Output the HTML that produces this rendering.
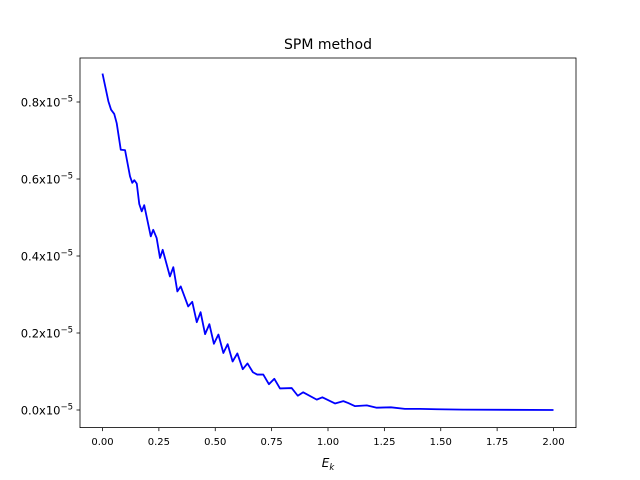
<!DOCTYPE html>
<html><head><meta charset="utf-8"><style>
body{margin:0;background:#fff;}
svg{display:block;font-family:"DejaVu Sans","Liberation Sans",sans-serif;}
</style></head><body>
<svg id="chart" width="640" height="480" viewBox="0 0 640 480">
<rect x="0" y="0" width="640" height="480" fill="#fff"/>
<text x="328" y="49" font-size="14" text-anchor="middle">SPM method</text>
<g id="xt"></g>
<g id="yt"></g>
<path id="line" fill="none" stroke="#0000ff" stroke-width="1.8" stroke-linejoin="round"/>
<rect x="80" y="58" width="496" height="369.6" fill="none" stroke="#000" stroke-width="0.8"/>
<text x="328" y="467" font-size="12" text-anchor="middle" font-style="italic">E<tspan font-size="8.5" dy="3" font-style="italic">k</tspan></text>
</svg>
<script>
const xValues=[0,0.026,0.038,0.052,0.063,0.081,0.10,0.122,0.132,0.141,0.152,0.163,0.174,0.185,0.214,0.225,0.24,0.255,0.267,0.299,0.314,0.332,0.347,0.38,0.398,0.418,0.435,0.455,0.474,0.494,0.514,0.536,0.555,0.577,0.598,0.622,0.643,0.667,0.686,0.713,0.738,0.762,0.787,0.839,0.866,0.89,0.95,0.975,1.031,1.068,1.09,1.12,1.172,1.216,1.279,1.341,1.408,1.482,1.599,2.0];
const yValues=[0.874,0.802,0.78,0.769,0.745,0.676,0.675,0.607,0.59,0.597,0.588,0.535,0.516,0.532,0.451,0.468,0.447,0.395,0.416,0.347,0.371,0.308,0.321,0.269,0.281,0.228,0.254,0.197,0.223,0.172,0.196,0.148,0.171,0.126,0.147,0.106,0.121,0.098,0.092,0.092,0.067,0.081,0.056,0.057,0.037,0.046,0.027,0.033,0.017,0.023,0.018,0.010,0.012,0.006,0.007,0.003,0.003,0.002,0.001,0.0];
const xTicks=[0,0.25,0.5,0.75,1.0,1.25,1.5,1.75,2.0];
const xTickLabels=["0.00","0.25","0.50","0.75","1.00","1.25","1.50","1.75","2.00"];
const yTicks=[0,0.2,0.4,0.6,0.8];
const yTickLabels=["0.0","0.2","0.4","0.6","0.8"];
const NS="http://www.w3.org/2000/svg";
function sx(v){return 102.5+v*225.5;}
function sy(v){return 410-v*385;}
let d="";
for(let i=0;i<xValues.length;i++){d+=(i?"L":"M")+sx(xValues[i]).toFixed(2)+","+sy(yValues[i]).toFixed(2);}
document.getElementById('line').setAttribute('d',d);
const xt=document.getElementById('xt');
xTicks.forEach((t,i)=>{
 const l=document.createElementNS(NS,'line');
 
 
 l.setAttribute('x1',sx(t));l.setAttribute('x2',sx(t));l.setAttribute('y1',427.6);l.setAttribute('y2',431.1);
 l.setAttribute('stroke','#000');l.setAttribute('stroke-width','0.8');xt.appendChild(l);
 const tx=document.createElementNS(NS,'text');
 
 
 tx.setAttribute('x',sx(t));tx.setAttribute('y',445);tx.setAttribute('font-size','10');tx.setAttribute('text-anchor','middle');
 tx.textContent=xTickLabels[i];xt.appendChild(tx);
});
const yt=document.getElementById('yt');
yTicks.forEach((t,i)=>{
 const l=document.createElementNS(NS,'line');
 
 
 l.setAttribute('x1',76.5);l.setAttribute('x2',80);l.setAttribute('y1',sy(t));l.setAttribute('y2',sy(t));
 l.setAttribute('stroke','#000');l.setAttribute('stroke-width','0.8');yt.appendChild(l);
 const tx=document.createElementNS(NS,'text');
 
 
 tx.setAttribute('x',73);tx.setAttribute('y',sy(t)+4.5);tx.setAttribute('font-size','11.5');tx.setAttribute('text-anchor','end');
 tx.innerHTML=yTickLabels[i]+'x10<tspan font-size="8.5" dy="-5">−5</tspan>';
 yt.appendChild(tx);
});
</script>
</body></html>
